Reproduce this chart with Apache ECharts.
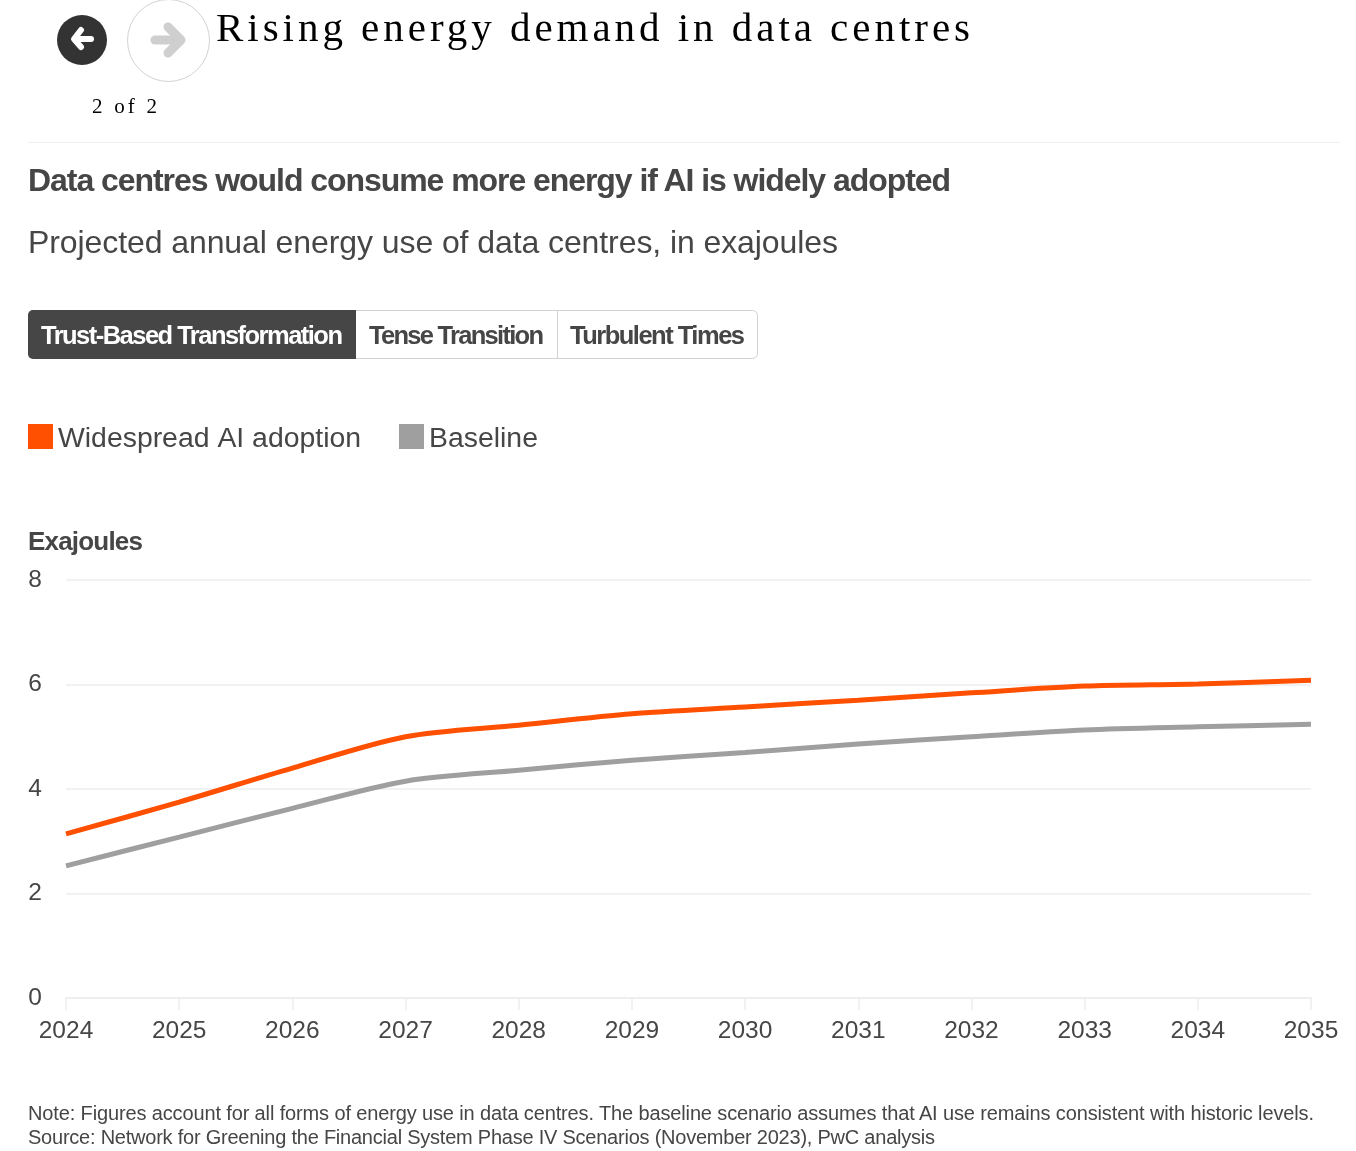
<!DOCTYPE html>
<html><head><meta charset="utf-8">
<style>html,body{margin:0;padding:0;background:#fff}
#c{width:1356px;height:1151px}
.t{position:absolute;white-space:nowrap;color:#464646;font-family:"Liberation Sans",Arial,sans-serif;line-height:1;transform:translateY(-50%)}
.b{font-weight:bold}
</style>
<script src="https://cdn.jsdelivr.net/npm/echarts@6/dist/echarts.min.js"></script></head>
<body><div id="c"></div>
<script>
const years = ['2024','2025','2026','2027','2028','2029','2030','2031','2032','2033','2034','2035'];
const adoption = [3.14,3.75,4.40,5.00,5.22,5.44,5.57,5.70,5.84,5.97,6.01,6.08];
const baseline = [2.53,3.08,3.63,4.15,4.36,4.55,4.70,4.86,5.00,5.13,5.19,5.24];
const tabs = ['Trust-Based Transformation','Tense Transition','Turbulent Times'];
const sans = '"Liberation Sans", Arial, sans-serif';
const ink = '#464646';
const chart = echarts.init(document.getElementById('c'),null,{renderer:'canvas'});
chart.setOption({
  animation:false,
  backgroundColor:'#fff',
  grid:{left:66,right:45,top:580,bottom:153,containLabel:false},
  legend:{left:28,top:424,itemWidth:25,itemHeight:25,itemGap:38,icon:'rect',padding:0,
    formatter:function(n){return '{a|'+n+'}';},
    textStyle:{fontFamily:sans,fontSize:28.4,color:ink,rich:{a:{fontFamily:sans,fontSize:28.4,color:ink,padding:[6,0,0,0]}}},
    data:['Widespread AI adoption','Baseline']},
  xAxis:{type:'category',data:years,boundaryGap:false,
    axisLine:{lineStyle:{color:'#eeeeee',width:2}},
    axisTick:{show:true,length:12,alignWithLabel:true,lineStyle:{color:'#eeeeee',width:1.5}},
    axisLabel:{fontFamily:sans,fontSize:24.5,color:ink,margin:21,interval:0,showMinLabel:true,showMaxLabel:true,hideOverlap:false},
    splitLine:{show:false}},
  yAxis:{type:'value',min:0,max:8,interval:2,
    axisLine:{show:false},axisTick:{show:false},
    axisLabel:{fontFamily:sans,fontSize:24.5,color:ink,margin:24},
    splitLine:{lineStyle:{color:'#eeeeee',width:1.5}}},
  series:[
    {name:'Widespread AI adoption',type:'line',data:adoption,smooth:0.3,showSymbol:false,symbol:'none',z:3,
      itemStyle:{color:'#fe5000'},lineStyle:{color:'#fe5000',width:5}},
    {name:'Baseline',type:'line',data:baseline,smooth:0.3,showSymbol:false,symbol:'none',z:2,
      itemStyle:{color:'#9f9f9f'},lineStyle:{color:'#9f9f9f',width:5}}
  ],
  graphic:[
    {type:'circle',shape:{cx:82,cy:40,r:25},style:{fill:'#333333'}},
    {type:'polyline',shape:{points:[[91,39],[76,39]]},style:{stroke:'#fff',lineWidth:6,lineCap:'round',fill:null}},
    {type:'polyline',shape:{points:[[81,30],[74,39],[81,47]]},style:{stroke:'#fff',lineWidth:6,lineCap:'round',lineJoin:'round',fill:null}},
    {type:'circle',shape:{cx:168.5,cy:40.5,r:41},style:{fill:'#fff',stroke:'#d2d2d2',lineWidth:1}},
    {type:'polyline',shape:{points:[[155,40],[180,40]]},style:{stroke:'#cfcfcf',lineWidth:9,lineCap:'round',fill:null}},
    {type:'polyline',shape:{points:[[168,27],[181,40],[168,53]]},style:{stroke:'#cfcfcf',lineWidth:9,lineCap:'round',lineJoin:'round',fill:null}},
    {type:'line',shape:{x1:28,y1:142.5,x2:1340,y2:142.5},style:{stroke:'#efefef',lineWidth:1}},
    {type:'rect',shape:{x:28.5,y:310.5,width:729,height:48,r:5},style:{fill:'#fff',stroke:'#d2d2d2',lineWidth:1}},
    {type:'rect',shape:{x:28,y:310,width:328,height:49,r:[5,0,0,5]},style:{fill:ink}},
    {type:'line',shape:{x1:557.5,y1:311,x2:557.5,y2:358},style:{stroke:'#d2d2d2',lineWidth:1}}
  ]
});
function put(text,x,y,size,width,opts){
  opts=opts||{};
  const d=document.createElement('div');
  d.className='t'+(opts.bold?' b':'');
  d.textContent=text;
  d.style.left=x+'px';d.style.top=y+'px';d.style.fontSize=size+'px';
  if(opts.color)d.style.color=opts.color;
  if(opts.family)d.style.fontFamily=opts.family;
  document.body.appendChild(d);
  const w=d.getBoundingClientRect().width;
  d.style.letterSpacing=((width-w)/(text.length-1)).toFixed(3)+'px';
}
const serif='"Liberation Serif",serif';
put('Rising energy demand in data centres',216,27,41,754,{color:'#000',family:serif});
put('2 of 2',92,106,21,65,{color:'#000',family:serif});
put('Data centres would consume more energy if AI is widely adopted',28,180,32,923,{bold:true});
put('Projected annual energy use of data centres, in exajoules',28,242,32,810);
put(tabs[0],41,336,25.5,302,{bold:true,color:'#fff'});
put(tabs[1],369,336,25.5,175,{bold:true});
put(tabs[2],570,336,25.5,175,{bold:true});
put('Exajoules',28,541,26,115,{bold:true});
put('Note: Figures account for all forms of energy use in data centres. The baseline scenario assumes that AI use remains consistent with historic levels.',28,1113,20,1286);
put('Source: Network for Greening the Financial System Phase IV Scenarios (November 2023), PwC analysis',28,1137,20,907);
</script></body></html>
